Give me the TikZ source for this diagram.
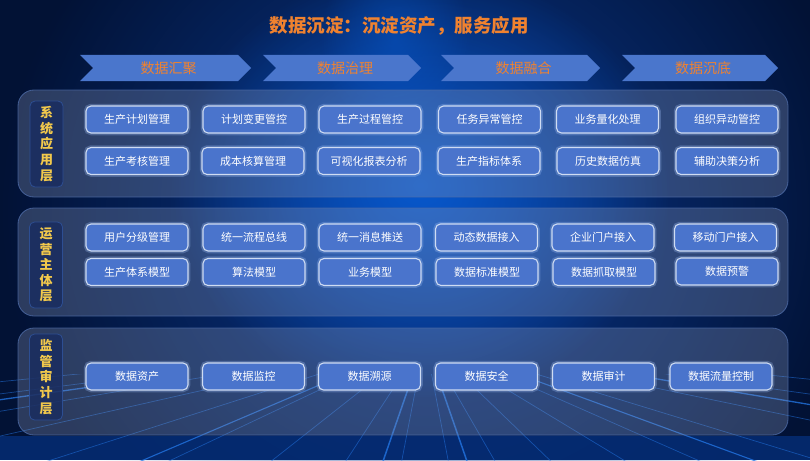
\documentclass[tikz,border=0pt]{standalone}
\usepackage{fontspec}
\setmainfont{Noto Sans CJK SC}
\usetikzlibrary{fadings}
\tikzfading[name=glowfade, inner color=transparent!0, outer color=transparent!100]
\definecolor{bgdark}{HTML}{021235}
\definecolor{bgmid}{HTML}{0A3A92}
\definecolor{bgbright}{HTML}{0758CC}
\definecolor{bandcol}{HTML}{052C74}
\definecolor{streakcol}{HTML}{2479EA}
\definecolor{panelfill}{HTML}{8F9DBE}
\definecolor{panelline}{HTML}{4E6CA8}
\definecolor{sidefill}{HTML}{1A2D60}
\definecolor{sideline}{HTML}{2D4E92}
\definecolor{sidetext}{HTML}{F2C94C}
\definecolor{boxfill}{HTML}{4A74CC}
\definecolor{boxline}{HTML}{CFDCF3}
\definecolor{glowcol}{HTML}{9DBCF5}
\definecolor{chevfill}{HTML}{4A76CC}
\definecolor{orangetxt}{HTML}{F0822F}
\tikzset{
  panelbox/.style={rounded corners=16pt, fill=panelfill, fill opacity=0.3,
    draw=panelline, draw opacity=0.8, line width=0.8pt, inner sep=0pt},
  sidebox/.style={rounded corners=5pt, fill=sidefill, fill opacity=0.85,
    draw=sideline, line width=0.8pt, text opacity=1, text=sidetext,
    minimum width=33pt, minimum height=86pt, inner sep=0pt, align=center,
    font=\fontsize{13}{15.6}\selectfont\bfseries},
  itembox/.style={rounded corners=5pt, fill=boxfill, draw=boxline, line width=1.1pt,
    minimum width=102pt, minimum height=27pt, inner sep=0pt, text=white,
    font=\fontsize{11}{13}\selectfont,
    preaction={draw=glowcol, line width=4.5pt, draw opacity=0.3}},
  chevtext/.style={text=orangetxt, font=\fontsize{14}{16}\selectfont, inner sep=0pt},
  chevshape/.style={fill=chevfill},
  streak/.style={draw=streakcol, line width=0.7pt, draw opacity=0.5},
}
\begin{document}
\begin{tikzpicture}[x=1pt,y=-1pt]
\useasboundingbox (0,0) rectangle (810,460);
\clip (0,0) rectangle (810,460);
% background
\fill[bgdark] (0,0) rectangle (810,460);
\fill[bgmid, path fading=glowfade] (0,-200) rectangle (860,620);
\fill[bgbright, path fading=glowfade] (170,-30) rectangle (670,400);
\fill[bgbright, fill opacity=0.5, path fading=glowfade] (320,-60) rectangle (470,140);
\fill[bandcol, fill opacity=0.85] (0,436) rectangle (810,460);
% streaks
\begin{scope}
  \clip (0,374) rectangle (810,460);
  \foreach \ex in {-900,-600,-350,-150,20,150,260,340,400,450,500,560,640,720,850,1050,1350,1700}
    \draw[streak] (425,340) -- (\ex,470);
  \foreach \ex/\w in {-500/1.3,120/1.1,380/1.5,470/1.5,780/1.1,1200/1.3}
    \draw[streak, line width=\w pt, draw opacity=0.75] (425,340) -- (\ex,470);
\end{scope}
% title
\node[text=orangetxt, font=\fontsize{18.5}{20}\selectfont\bfseries, inner sep=0pt] (title) at (399,26) {数据沉淀：沉淀资产，服务应用};
% chevrons
\foreach \n/\a/\b/\t in {c1/80/251/数据汇聚, c2/263/421/数据治理, c3/441/600/数据融合, c4/622/778/数据沉底}{
  \fill[chevshape] (\a,55) -- (\b-13,55) -- (\b,68) -- (\b-13,81) -- (\a,81) -- (\a+13,68) -- cycle;
  \node[chevtext] (\n) at ({(\a+\b)/2+3},68) {\t};
}
% panels
\node[panelbox, minimum width=770pt, minimum height=107pt] (p1) at (403,143.5) {};
\node[panelbox, minimum width=770pt, minimum height=108pt] (p2) at (403,262) {};
\node[panelbox, minimum width=770pt, minimum height=107pt] (p3) at (403,381.5) {};
% side labels
\node[sidebox] (s1) at (46.5,144) {系\\统\\应\\用\\层};
\node[sidebox] (s2) at (46,265) {运\\营\\主\\体\\层};
\node[sidebox] (s3) at (46,377) {监\\管\\审\\计\\层};
% panel 1
\node[itembox] (a1) at (137,119.5) {生产计划管理};
\node[itembox] (a2) at (254,119.5) {计划变更管控};
\node[itembox] (a3) at (370,119.5) {生产过程管控};
\node[itembox] (a4) at (489.5,119.5) {任务异常管控};
\node[itembox] (a5) at (607.5,119.5) {业务量化处理};
\node[itembox] (a6) at (727,119.5) {组织异动管控};
\node[itembox] (b1) at (137,161) {生产考核管理};
\node[itembox] (b2) at (253,161) {成本核算管理};
\node[itembox] (b3) at (369,161) {可视化报表分析};
\node[itembox] (b4) at (489,161) {生产指标体系};
\node[itembox] (b5) at (608,161) {历史数据仿真};
\node[itembox] (b6) at (727,161) {辅助决策分析};
% panel 2
\node[itembox] (c1b) at (137,237.5) {用户分级管理};
\node[itembox] (c2b) at (254,237.5) {统一流程总线};
\node[itembox] (c3b) at (370,237.5) {统一消息推送};
\node[itembox] (c4b) at (486.5,237.5) {动态数据接入};
\node[itembox] (c5b) at (603,237.5) {企业门户接入};
\node[itembox] (c6b) at (725.5,237.5) {移动门户接入};
\node[itembox] (d1) at (137,272) {生产体系模型};
\node[itembox] (d2) at (254,272) {算法模型};
\node[itembox] (d3) at (370,272) {业务模型};
\node[itembox] (d4) at (487,272) {数据标准模型};
\node[itembox] (d5) at (604,272) {数据抓取模型};
\node[itembox] (d6) at (727,271.5) {数据预警};
% panel 3
\node[itembox] (e1) at (137,376.5) {数据资产};
\node[itembox] (e2) at (253.5,376.5) {数据监控};
\node[itembox] (e3) at (369.5,376.5) {数据溯源};
\node[itembox] (e4) at (486.5,376.5) {数据安全};
\node[itembox] (e5) at (603.5,376.5) {数据审计};
\node[itembox] (e6) at (721,376.5) {数据流量控制};
\end{tikzpicture}
\end{document}
